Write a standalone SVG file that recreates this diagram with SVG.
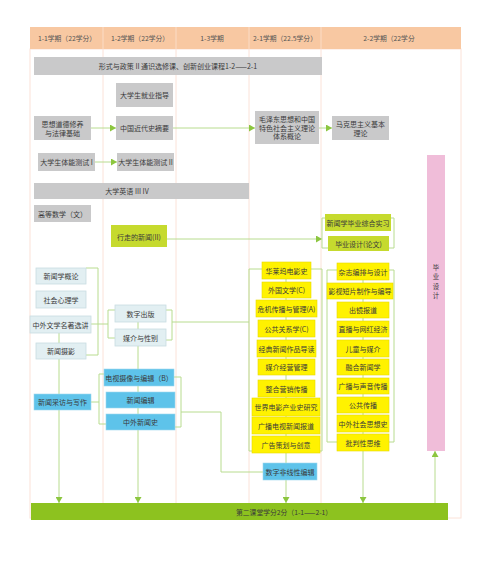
<svg xmlns="http://www.w3.org/2000/svg" width="478" height="567" viewBox="0 0 478 567">
<style>
text{font-family:"Noto Sans CJK SC","Noto Sans",sans-serif;font-size:7px;fill:#3a3a3a;text-anchor:middle;dominant-baseline:central}
.hd{font-size:6.8px;fill:#555}
.vt{font-size:6.4px}
.gray{fill:#c9c9ca}
.lb{fill:#e2eff2;stroke:#c8dde2;stroke-width:0.8}
.bl{fill:#5ec3ea;stroke:#9fd6ee;stroke-width:0.6}
.ye{fill:#fff200;stroke:#e6d900;stroke-width:0.6}
.yg{fill:#c6da2e}
.pk{fill:#f0bdd9}
.cn{fill:none;stroke:#b8dc8f;stroke-width:1}
.col{stroke:#fbe2d8;stroke-width:1;fill:none}
</style>
<defs>
<marker id="ah" markerUnits="userSpaceOnUse" markerWidth="7" markerHeight="7" refX="6" refY="3.5" orient="auto">
<path d="M0,0 L6,3.5 L0,7 z" fill="#8cc63f"/>
</marker>
</defs>
<rect width="478" height="567" fill="#ffffff"/>
<g id="frame">
<rect x="30" y="49" width="431" height="469" class="col"/>
<line x1="103" y1="49" x2="103" y2="503" class="col"/>
<line x1="176" y1="49" x2="176" y2="503" class="col"/>
<line x1="249" y1="49" x2="249" y2="503" class="col"/>
<line x1="321" y1="49" x2="321" y2="503" class="col"/>
<rect x="30" y="27" width="431" height="22" fill="#f8c8a2"/>
<line x1="103" y1="27" x2="103" y2="49" stroke="#fbdcc6" stroke-width="1"/>
<line x1="176" y1="27" x2="176" y2="49" stroke="#fbdcc6" stroke-width="1"/>
<line x1="249" y1="27" x2="249" y2="49" stroke="#fbdcc6" stroke-width="1"/>
<line x1="321" y1="27" x2="321" y2="49" stroke="#fbdcc6" stroke-width="1"/>
<text class="hd" x="67" y="38">1-1学期（22学分）</text>
<text class="hd" x="140" y="38">1-2学期（22学分）</text>
<text class="hd" x="212" y="38">1-3学期</text>
<text class="hd" x="285" y="38">2-1学期（22.5学分）</text>
<text class="hd" x="389" y="38">2-2学期（22学分</text>
</g>
<g id="connectors">
<line x1="91" y1="128" x2="116" y2="128" class="cn" marker-end="url(#ah)"/>
<line x1="173" y1="128" x2="255" y2="128" class="cn" marker-end="url(#ah)"/>
<line x1="319" y1="128" x2="332" y2="128" class="cn" marker-end="url(#ah)"/>
<line x1="95" y1="162" x2="117" y2="162" class="cn" marker-end="url(#ah)"/>
<line x1="167" y1="239" x2="322" y2="239" class="cn" marker-end="url(#ah)"/>
<path d="M325,218 H322 V248 H328" class="cn"/>
<path d="M391,218 H394 V248 H389" class="cn"/>
<path d="M86,268 H98 V355 H86" class="cn"/>
<path d="M91,324 H108" class="cn"/>
<path d="M115,310 H108 V338 H115" class="cn"/>
<path d="M166,310 H172 V340 H166" class="cn"/>
<path d="M172,322 H249" class="cn"/>
<line x1="59" y1="333" x2="59" y2="503" class="cn" marker-end="url(#ah)"/>
<line x1="138" y1="322" x2="138" y2="503" class="cn" marker-end="url(#ah)"/>
<path d="M91,402 H99" class="cn"/>
<path d="M104,374 H99 V424 H106" class="cn"/>
<path d="M174,377 H181 V427 H175" class="cn"/>
<path d="M181,412 H221 V472 H263" class="cn"/>
<path d="M262,269 H249 V451 H252" class="cn"/>
<path d="M311,269 H322 V451 H320" class="cn"/>
<line x1="286" y1="270" x2="286" y2="503" class="cn" marker-end="url(#ah)"/>
<path d="M337,270 H327 V442 H337" class="cn"/>
<path d="M389,270 H394 V442 H389" class="cn"/>
<line x1="363" y1="271" x2="363" y2="503" class="cn" marker-end="url(#ah)"/>
<line x1="435" y1="503" x2="435" y2="451" class="cn" marker-end="url(#ah)"/>
</g>
<g id="n-policy"><rect x="34" y="57" width="288" height="18" class="gray"/><text x="178" y="66">形式与政策 II 通识选修课、创新创业课程1-2——2-1</text></g>
<g id="n-job"><rect x="116" y="83" width="57" height="24" class="gray"/><text x="144.5" y="95">大学生就业指导</text></g>
<g id="n-moral"><rect x="34" y="116" width="57" height="24" class="gray"/><text x="62.5" y="124">思想道德修养</text><text x="62.5" y="133">与法律基础</text></g>
<g id="n-history"><rect x="116" y="116" width="57" height="24" class="gray"/><text x="144.5" y="128">中国近代史摘要</text></g>
<g id="n-mao"><rect x="255" y="111" width="64" height="33" class="gray"/><text x="287" y="119">毛泽东思想和中国</text><text x="287" y="127.5">特色社会主义理论</text><text x="287" y="136">体系概论</text></g>
<g id="n-marx"><rect x="332" y="116" width="57" height="24" class="gray"/><text x="360.5" y="124">马克思主义基本</text><text x="360.5" y="133">理论</text></g>
<g id="n-pe1"><rect x="38" y="153" width="57" height="18" class="gray"/><text x="66.5" y="162">大学生体能测试 I</text></g>
<g id="n-pe2"><rect x="117" y="153" width="57" height="18" class="gray"/><text x="145.5" y="162">大学生体能测试 II</text></g>
<g id="n-english"><rect x="34" y="183" width="215" height="16" class="gray"/><text x="127" y="191">大学英语 III IV</text></g>
<g id="n-math"><rect x="34" y="205" width="57" height="17" class="gray"/><text x="62.5" y="213.5">高等数学（文）</text></g>
<g id="n-walk"><rect x="111" y="225" width="56" height="22" class="yg"/><text x="139" y="236.5">行走的新闻(II)</text></g>
<g id="n-intern"><rect x="325" y="214" width="66" height="17" class="yg"/><text x="358" y="222.5">新闻学毕业综合实习</text></g>
<g id="n-thesis"><rect x="328" y="236" width="61" height="15" class="yg"/><text x="358.5" y="243.5">毕业设计(论文)</text></g>
<g id="n-design"><rect x="427" y="155" width="18" height="296" class="pk"/><text class="vt" x="436" y="267">毕</text><text class="vt" x="436" y="276.5">业</text><text class="vt" x="436" y="286">设</text><text class="vt" x="436" y="295.5">计</text></g>
<g id="n-intro"><rect x="36" y="268" width="50" height="16" class="lb"/><text x="61" y="276">新闻学概论</text></g>
<g id="n-psy"><rect x="36" y="291" width="50" height="17" class="lb"/><text x="61" y="299.5">社会心理学</text></g>
<g id="n-lit"><rect x="30" y="316" width="61" height="17" class="lb"/><text x="60.5" y="324.5">中外文学名著选讲</text></g>
<g id="n-photo"><rect x="36" y="343" width="50" height="16" class="lb"/><text x="61" y="351">新闻摄影</text></g>
<g id="n-digipub"><rect x="115" y="305" width="51" height="17" class="lb"/><text x="140.5" y="313.5">数字出版</text></g>
<g id="n-gender"><rect x="115" y="329" width="51" height="17" class="lb"/><text x="140.5" y="337.5">媒介与性别</text></g>
<g id="n-tv"><rect x="104" y="369" width="70" height="17" class="bl"/><text x="139" y="377.5">电视摄像与编辑（B）</text></g>
<g id="n-edit"><rect x="106" y="392" width="69" height="16" class="bl"/><text x="140.5" y="400">新闻编辑</text></g>
<g id="n-newshist"><rect x="106" y="414" width="69" height="16" class="bl"/><text x="140.5" y="422">中外新闻史</text></g>
<g id="n-report"><rect x="34" y="394" width="57" height="16" class="bl"/><text x="62.5" y="402">新闻采访与写作</text></g>
<g id="n-nonlinear"><rect x="263" y="463" width="54" height="17" class="bl"/><text x="290" y="471.5">数字非线性编辑</text></g>
<g id="n-y1"><rect x="262" y="262" width="49" height="17" class="ye"/><text x="286.5" y="270.5">华莱坞电影史</text></g>
<g id="n-y2"><rect x="262" y="282" width="49" height="16" class="ye"/><text x="286.5" y="290">外国文学(C)</text></g>
<g id="n-y3"><rect x="256" y="300" width="61" height="17" class="ye"/><text x="286.5" y="308.5">危机传播与管理(A)</text></g>
<g id="n-y4"><rect x="258" y="320" width="57" height="17" class="ye"/><text x="286.5" y="328.5">公共关系学(C)</text></g>
<g id="n-y5"><rect x="257" y="340" width="59" height="17" class="ye"/><text x="286.5" y="348.5">经典新闻作品导读</text></g>
<g id="n-y6"><rect x="258" y="359" width="57" height="16" class="ye"/><text x="286.5" y="367">媒介经营管理</text></g>
<g id="n-y7"><rect x="258" y="380" width="57" height="17" class="ye"/><text x="286.5" y="388.5">整合营销传播</text></g>
<g id="n-y8"><rect x="252" y="398" width="68" height="18" class="ye"/><text x="286" y="407">世界电影产业史研究</text></g>
<g id="n-y9"><rect x="252" y="417" width="68" height="17" class="ye"/><text x="286" y="425.5">广播电视新闻报道</text></g>
<g id="n-y10"><rect x="252" y="436" width="68" height="17" class="ye"/><text x="286" y="444.5">广告策划与创意</text></g>
<g id="n-z1"><rect x="337" y="263" width="52" height="17" class="ye"/><text x="363" y="271.5">杂志编排与设计</text></g>
<g id="n-z2"><rect x="327" y="283" width="66" height="16" class="ye"/><text x="360" y="291">影视短片制作与编导</text></g>
<g id="n-z3"><rect x="337" y="302" width="52" height="16" class="ye"/><text x="363" y="310">出镜报道</text></g>
<g id="n-z4"><rect x="337" y="321" width="52" height="16" class="ye"/><text x="363" y="329">直播与网红经济</text></g>
<g id="n-z5"><rect x="337" y="340" width="52" height="17" class="ye"/><text x="363" y="348.5">儿童与媒介</text></g>
<g id="n-z6"><rect x="337" y="359" width="52" height="16" class="ye"/><text x="363" y="367">融合新闻学</text></g>
<g id="n-z7"><rect x="337" y="378" width="52" height="16" class="ye"/><text x="363" y="386">广播与声音传播</text></g>
<g id="n-z8"><rect x="337" y="397" width="52" height="16" class="ye"/><text x="363" y="405">公共传播</text></g>
<g id="n-z9"><rect x="337" y="415" width="52" height="17" class="ye"/><text x="363" y="423.5">中外社会思想史</text></g>
<g id="n-z10"><rect x="337" y="434" width="52" height="17" class="ye"/><text x="363" y="442.5">批判性思维</text></g>
<g id="n-second"><rect x="31" y="503" width="417" height="17" fill="#8dc21f"/><text x="236" y="511.5" style="text-anchor:start;font-size:6.8px">第二课堂学分2分（1-1——2-1）</text></g>
</svg>
